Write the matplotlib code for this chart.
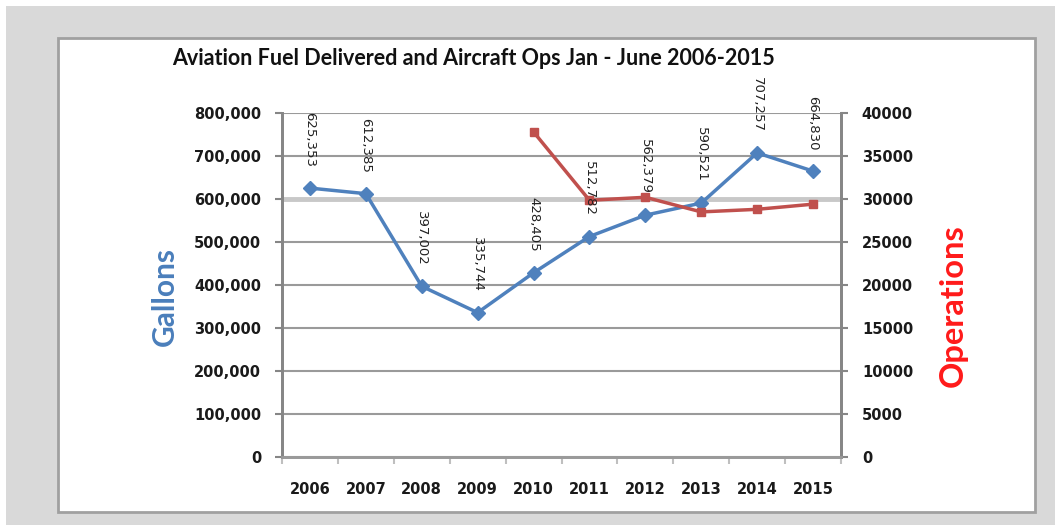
import matplotlib.pyplot as plt
from matplotlib.patches import Rectangle
from matplotlib.ticker import FuncFormatter, MultipleLocator

years = ['2006', '2007', '2008', '2009', '2010', '2011', '2012', '2013', '2014', '2015']
gallons = [625353, 612385, 397002, 335744, 428405, 512782, 562379, 590521, 707257, 664830]
ops_years = ['2010', '2011', '2012', '2013', '2014', '2015']
operations = [37800, 29850, 30200, 28500, 28800, 29400]

plt.rcParams['font.family'] = ['Lato', 'DejaVu Sans']

W, H = 1055, 525
fig = plt.figure(figsize=(W / 100, H / 100), dpi=100)
fig.patch.set_facecolor('white')

# gray surround and white chart frame
fig.patches.append(Rectangle((6 / W, 0), 1, 1 - 6 / H, transform=fig.transFigure,
                             facecolor='#d9d9d9', edgecolor='none', zorder=-20))
fig.patches.append(Rectangle((58 / W, 1 - 512 / H), (1035 - 58) / W, (512 - 38) / H,
                             transform=fig.transFigure, facecolor='white',
                             edgecolor='#a0a0a0', linewidth=2, zorder=-10))

ax = fig.add_axes([282 / W, 1 - 457 / H, (841 - 282) / W, (457 - 113) / H])
ax.set_facecolor('none')
ax2 = ax.twinx()

x = list(range(len(years)))
xo = [years.index(y) for y in ops_years]

ax.plot(x, gallons, color='#4f81bd', lw=2.5, marker='D', ms=7, zorder=3)
ax2.plot(xo, operations, color='#c0504d', lw=2.5, marker='s', ms=6, zorder=3)

# data labels drawn on the top axes so they sit above the red line
for xi, v in zip(x, gallons):
    ax2.annotate(f'{v:,}', (xi, v), xycoords=ax.transData, xytext=(0, 15),
                 textcoords='offset points', rotation=270, ha='center', va='bottom',
                 fontsize=9.5, color='#222222', family=['DejaVu Sans'],
                 annotation_clip=False, zorder=5)

ax.set_xlim(-0.5, len(years) - 0.5)
ax.set_ylim(0, 800000)
ax2.set_ylim(0, 40000)
ax.yaxis.set_major_locator(MultipleLocator(100000))
ax2.yaxis.set_major_locator(MultipleLocator(5000))
ax.yaxis.set_major_formatter(FuncFormatter(lambda v, p: f'{int(v):,}'))

ax.set_xticks(x)
ax.set_xticklabels(years)
ax.set_xticks([i - 0.5 for i in range(len(years) + 1)], minor=True)
ax.tick_params(axis='x', which='major', length=0, pad=18, labelsize=10.5)
ax.tick_params(axis='x', which='minor', length=5, color='#bfbfbf', width=1.5)
ax.tick_params(axis='y', length=5, color='#868686', width=1.5, labelsize=10.5, pad=10)
ax2.tick_params(axis='y', length=5, color='#868686', width=1.5, labelsize=10.5, pad=10)
for lab in ax.get_xticklabels() + ax.get_yticklabels() + ax2.get_yticklabels():
    lab.set_fontweight('bold')
    lab.set_family(['DejaVu Sans'])
    lab.set_color('#1a1a1a')

ax.grid(axis='y', color='#9a9a9a', lw=1.5)
ax.set_axisbelow(True)
# the 600,000 line shows lighter and wider in the original
ax.axhline(600000, color='#c8c8c8', lw=3.5, zorder=0.6)

for a in (ax, ax2):
    a.spines['top'].set_visible(False)
    a.spines['left'].set_color('#868686')
    a.spines['right'].set_color('#868686')
    a.spines['bottom'].set_color('#9a9a9a')
    for s in a.spines.values():
        s.set_linewidth(2)

ax.set_title('Aviation Fuel Delivered and Aircraft Ops Jan - June 2006-2015',
             fontsize=15.5, fontweight='bold', color='#111111', x=0.343, pad=34.5)

fig.text(165 / W, 1 - 297 / H, 'Gallons', rotation=90, ha='center', va='center',
         fontsize=21.5, fontweight='bold', color='#4a7ebb')
fig.text(953 / W, 1 - 306 / H, 'Operations', rotation=90, ha='center', va='center',
         fontsize=23.5, fontweight='bold', color='#ff1a1a')

fig.savefig('out.png', dpi=100, facecolor=fig.get_facecolor())
